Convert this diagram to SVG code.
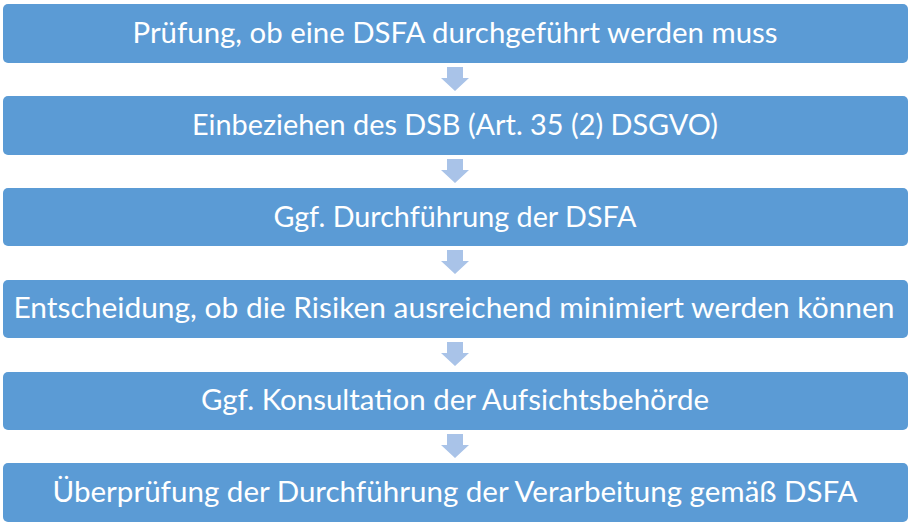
<svg xmlns="http://www.w3.org/2000/svg" width="912" height="529" viewBox="0 0 912 529">
<style>
.box{fill:#5B9BD5;}
.lbl{fill:#FFFFFF;font-family:Lato,"Open Sans","Liberation Sans",sans-serif;font-size:29px;text-anchor:middle;}
.arr{fill:#A9C3E8;}
</style>
<defs>
<path id="dn" d="M-8,0 H8 V11 H14 L0,24 L-14,11 H-8 Z"/>
</defs>
<rect width="912" height="529" fill="#FFFFFF"/>
<g id="connectors">
<use href="#dn" class="arr" x="455" y="67"/>
<use href="#dn" class="arr" x="455" y="159"/>
<use href="#dn" class="arr" x="455" y="250"/>
<use href="#dn" class="arr" x="455" y="342"/>
<use href="#dn" class="arr" x="455" y="434"/>
</g>
<g id="node1">
<rect class="box" x="3" y="4" width="905" height="59" rx="5"/>
<text class="lbl" x="455" y="43" textLength="645" lengthAdjust="spacingAndGlyphs">Prüfung, ob eine DSFA durchgeführt werden muss</text>
</g>
<g id="node2">
<rect class="box" x="3" y="96" width="905" height="59" rx="5"/>
<text class="lbl" x="455" y="135" textLength="526" lengthAdjust="spacingAndGlyphs">Einbeziehen des DSB (Art. 35 (2) DSGVO)</text>
</g>
<g id="node3">
<rect class="box" x="3" y="188" width="905" height="58" rx="5"/>
<text class="lbl" x="455" y="227" textLength="363" lengthAdjust="spacingAndGlyphs">Ggf. Durchführung der DSFA</text>
</g>
<g id="node4">
<rect class="box" x="3" y="280" width="905" height="58" rx="5"/>
<text class="lbl" x="454" y="318" textLength="881" lengthAdjust="spacingAndGlyphs">Entscheidung, ob die Risiken ausreichend minimiert werden können</text>
</g>
<g id="node5">
<rect class="box" x="3" y="372" width="905" height="58" rx="5"/>
<text class="lbl" x="455" y="410" textLength="508" lengthAdjust="spacingAndGlyphs">Ggf. Konsultation der Aufsichtsbehörde</text>
</g>
<g id="node6">
<rect class="box" x="3" y="463" width="905" height="59" rx="5"/>
<text class="lbl" x="455" y="502" textLength="805" lengthAdjust="spacingAndGlyphs">Überprüfung der Durchführung der Verarbeitung gemäß DSFA</text>
</g>
</svg>
